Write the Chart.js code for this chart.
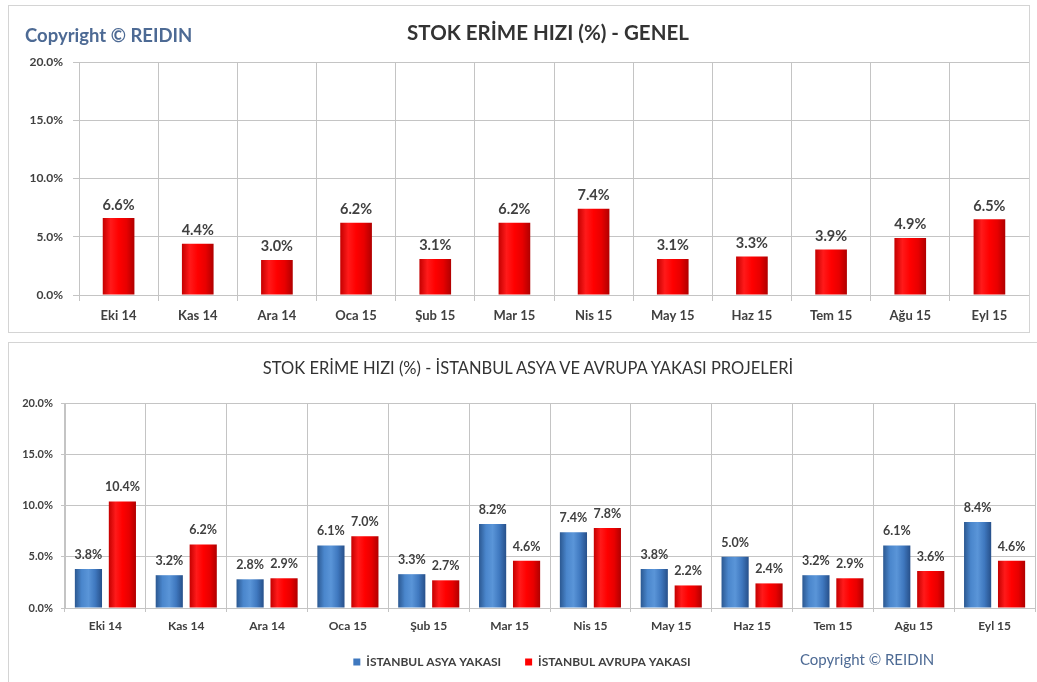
<!DOCTYPE html>
<html>
<head>
<meta charset="utf-8">
<script src="https://cdn.jsdelivr.net/npm/chart.js"></script>
<style>
  body { margin: 0; background: #fff; width: 1037px; height: 682px; overflow: hidden; position: relative; font-family: Lato, sans-serif; }
  .panel { position: absolute; border: 1px solid #d4d4d4; background: #fff; }
  #p1 { left: 8px; top: 5px; width: 1020px; height: 326px; }
  #p2 { left: 8px; top: 342px; width: 1040px; height: 345px; }
  canvas { display: block; }
  .title { position: absolute; color: #333; white-space: nowrap; transform: translate(-50%, -50%); }
  .copy { position: absolute; color: #4d6a94; white-space: nowrap; transform: translateY(-50%); }
</style>
</head>
<body>

<div class="panel" id="p1"><canvas id="c1" width="1020" height="326"></canvas></div>
<div class="panel" id="p2"><canvas id="c2" width="1040" height="339"></canvas></div>

<div class="copy" style="left:25px;top:35px;font-size:18.5px;font-weight:bold;">Copyright © REIDIN</div>
<div class="title" style="left:548px;top:32px;font-size:20.5px;font-weight:bold;">STOK ERİME HIZI (%) - GENEL</div>
<div class="title" style="left:528px;top:368px;font-size:16.5px;">STOK ERİME HIZI (%) - İSTANBUL ASYA VE AVRUPA YAKASI PROJELERİ</div>
<div class="copy" style="left:800px;top:659px;font-size:15px;">Copyright © REIDIN</div>

<script>
// ---------- DATA ----------
const months = ['Eki 14', 'Kas 14', 'Ara 14', 'Oca 15', 'Şub 15', 'Mar 15',
                'Nis 15', 'May 15', 'Haz 15', 'Tem 15', 'Ağu 15', 'Eyl 15'];
const genel  = [6.6, 4.4, 3.0, 6.2, 3.1, 6.2, 7.4, 3.1, 3.3, 3.9, 4.9, 6.5];
const asya   = [3.8, 3.2, 2.8, 6.1, 3.3, 8.2, 7.4, 3.8, 5.0, 3.2, 6.1, 8.4];
const avrupa = [10.4, 6.2, 2.9, 7.0, 2.7, 4.6, 7.8, 2.2, 2.4, 2.9, 3.6, 4.6];
const yTicks = [0, 5, 10, 15, 20];

const RED_SHADES  = ['#c40000', '#ff1a1a', '#ff0000', '#e80000', '#b00000'];
const BLUE_SHADES = ['#2b5891', '#4a86cc', '#5a95d8', '#3f78bf', '#27508a'];
const TXT = '#404040';
const GRID = '#c4c4c4';

// bar shading: per-bar horizontal gradient
const shade = {
  id: 'shade',
  beforeDatasetsDraw(chart) {
    const ctx = chart.ctx;
    chart.data.datasets.forEach((ds, i) => {
      chart.getDatasetMeta(i).data.forEach(el => {
        const g = ctx.createLinearGradient(el.x - el.width / 2, 0, el.x + el.width / 2, 0);
        ds.shades.forEach((c, k) => g.addColorStop(k / (ds.shades.length - 1), c));
        el.options.backgroundColor = g;
      });
    });
  }
};

// value labels above bars
const valueLabels = {
  id: 'valueLabels',
  afterDatasetsDraw(chart, args, opts) {
    const ctx = chart.ctx;
    ctx.save();
    ctx.font = opts.font;
    ctx.fillStyle = TXT;
    ctx.textAlign = 'center';
    ctx.textBaseline = 'bottom';
    chart.data.datasets.forEach((ds, i) => {
      chart.getDatasetMeta(i).data.forEach((el, j) => {
        ctx.fillText(ds.data[j].toFixed(1) + '%', el.x, el.y - opts.gap);
      });
    });
    ctx.restore();
  }
};

function yScale(width, size, tickLen, pad) {
  return {
    min: 0, max: 20,
    afterBuildTicks: s => { s.ticks = yTicks.map(v => ({ value: v })); },
    afterFit: s => { s.width = width; },
    border: { color: GRID },
    grid: { color: GRID, tickLength: tickLen },
    ticks: {
      padding: pad, color: TXT,
      font: { family: 'Lato', size: size, weight: 'bold' },
      callback: v => v.toFixed(1) + '%'
    }
  };
}

function xScale(height, size, tickLen, pad) {
  return {
    afterFit: s => { s.height = height; },
    border: { color: GRID },
    grid: { color: GRID, offset: true, tickLength: tickLen },
    ticks: { padding: pad, color: TXT, font: { family: 'Lato', size: size, weight: 'bold' } }
  };
}

// ---------- TOP: GENEL ----------
new Chart(document.getElementById('c1'), {
  type: 'bar',
  data: {
    labels: months,
    datasets: [{
      label: 'Genel',
      data: genel,
      shades: RED_SHADES,
      backgroundColor: () => '#ff0000',
      barPercentage: 0.4,
      categoryPercentage: 1
    }]
  },
  options: {
    responsive: false,
    animation: false,
    layout: { padding: { top: 56, right: 0, bottom: 0, left: 0 } },
    plugins: {
      legend: { display: false },
      tooltip: { enabled: false },
      valueLabels: { font: 'bold 14.5px Lato', gap: 6 }
    },
    scales: {
      x: xScale(37, 13, 6, 7),
      y: yScale(70, 12, 6, 10)
    }
  },
  plugins: [shade, valueLabels]
});

// ---------- BOTTOM: ASYA / AVRUPA ----------
new Chart(document.getElementById('c2'), {
  type: 'bar',
  data: {
    labels: months,
    datasets: [{
      label: 'İSTANBUL ASYA YAKASI',
      data: asya,
      shades: BLUE_SHADES,
      backgroundColor: () => '#3f78bf',
      barPercentage: 0.8,
      categoryPercentage: 0.84
    }, {
      label: 'İSTANBUL AVRUPA YAKASI',
      data: avrupa,
      shades: RED_SHADES,
      backgroundColor: () => '#ff0000',
      barPercentage: 0.8,
      categoryPercentage: 0.84
    }]
  },
  options: {
    responsive: false,
    animation: false,
    layout: { padding: { top: 60, right: 14, bottom: 4, left: 0 } },
    plugins: {
      legend: {
        position: 'bottom',
        labels: {
          boxWidth: 7, boxHeight: 7, padding: 24, color: TXT,
          font: { family: 'Lato', size: 12, weight: 'bold' }
        }
      },
      tooltip: { enabled: false },
      valueLabels: { font: 'bold 12.5px Lato', gap: 8 }
    },
    scales: {
      x: xScale(24, 12, 4, 7),
      y: yScale(56, 11, 4, 8)
    }
  },
  plugins: [shade, valueLabels]
});
</script>
</body>
</html>
